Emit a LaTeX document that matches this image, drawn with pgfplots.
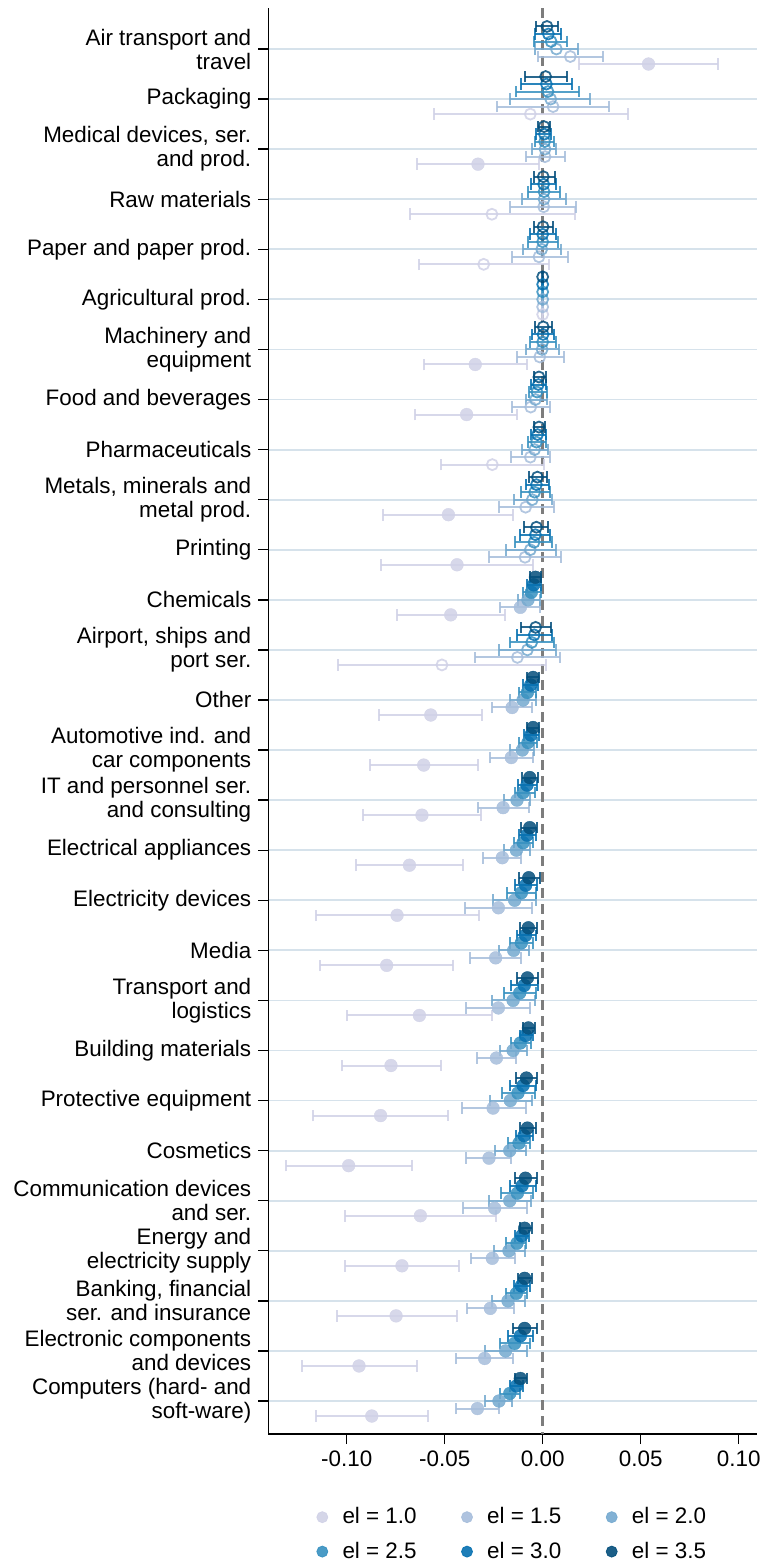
\documentclass[border=0pt]{standalone}
\usepackage{fontspec}
\setmainfont{Liberation Sans}
\usepackage{pgfplots}
\usepackage{pgfplotstable}
\pgfplotsset{compat=1.18}

\definecolor{c10}{RGB}{208,209,230}
\definecolor{c15}{RGB}{166,189,219}
\definecolor{c20}{RGB}{116,169,207}
\definecolor{c25}{RGB}{54,144,192}
\definecolor{c30}{RGB}{5,112,176}
\definecolor{c35}{RGB}{3,78,123}
\definecolor{gridc}{RGB}{214,226,235}
\definecolor{zeroc}{RGB}{125,125,125}

% k = category (0 = top), m = estimate, lo/hi = CI, s = 1 (significant, filled) / 0 (hollow)
\pgfplotstableread{
k m lo hi s
0 0.0540 0.0185 0.0896 1
1 -0.0063 -0.0554 0.0434 0
2 -0.0330 -0.0639 -0.0017 1
3 -0.0259 -0.0679 0.0163 0
4 -0.0301 -0.0631 0.0031 0
5 0.0000 -0.0003 0.0003 0
6 -0.0344 -0.0604 -0.0082 1
7 -0.0388 -0.0650 -0.0129 1
8 -0.0257 -0.0519 0.0007 0
9 -0.0481 -0.0813 -0.0150 1
10 -0.0437 -0.0825 -0.0051 1
11 -0.0469 -0.0745 -0.0192 1
12 -0.0514 -0.1043 0.0017 0
13 -0.0571 -0.0833 -0.0311 1
14 -0.0607 -0.0881 -0.0328 1
15 -0.0616 -0.0918 -0.0316 1
16 -0.0680 -0.0954 -0.0405 1
17 -0.0743 -0.1158 -0.0327 1
18 -0.0796 -0.1136 -0.0456 1
19 -0.0629 -0.0997 -0.0260 1
20 -0.0774 -0.1026 -0.0520 1
21 -0.0827 -0.1173 -0.0481 1
22 -0.0990 -0.1310 -0.0667 1
23 -0.0624 -0.1007 -0.0238 1
24 -0.0718 -0.1007 -0.0425 1
25 -0.0748 -0.1051 -0.0439 1
26 -0.0937 -0.1230 -0.0643 1
27 -0.0872 -0.1158 -0.0587 1
}\tabA

\pgfplotstableread{
k m lo hi s
0 0.0141 -0.0024 0.0308 0
1 0.0053 -0.0231 0.0338 0
2 0.0012 -0.0087 0.0112 0
3 0.0005 -0.0165 0.0172 0
4 -0.0019 -0.0155 0.0129 0
5 0.0000 -0.0003 0.0003 0
6 -0.0015 -0.0131 0.0107 0
7 -0.0061 -0.0155 0.0036 0
8 -0.0063 -0.0160 0.0039 0
9 -0.0087 -0.0223 0.0056 0
10 -0.0090 -0.0274 0.0095 0
11 -0.0114 -0.0216 -0.0012 1
12 -0.0129 -0.0347 0.0087 0
13 -0.0156 -0.0257 -0.0056 1
14 -0.0160 -0.0270 -0.0049 1
15 -0.0202 -0.0330 -0.0070 1
16 -0.0206 -0.0304 -0.0109 1
17 -0.0226 -0.0398 -0.0053 1
18 -0.0240 -0.0372 -0.0109 1
19 -0.0226 -0.0389 -0.0063 1
20 -0.0236 -0.0333 -0.0134 1
21 -0.0253 -0.0412 -0.0087 1
22 -0.0274 -0.0389 -0.0160 1
23 -0.0245 -0.0406 -0.0080 1
24 -0.0257 -0.0367 -0.0143 1
25 -0.0267 -0.0384 -0.0148 1
26 -0.0296 -0.0440 -0.0151 1
27 -0.0333 -0.0444 -0.0223 1
}\tabB

\pgfplotstableread{
k m lo hi s
0 0.0070 -0.0041 0.0180 0
1 0.0041 -0.0168 0.0240 0
2 0.0012 -0.0053 0.0070 0
3 0.0007 -0.0104 0.0117 0
4 -0.0005 -0.0100 0.0095 0
5 0.0000 -0.0003 0.0003 0
6 -0.0003 -0.0087 0.0083 0
7 -0.0037 -0.0087 0.0022 0
8 -0.0041 -0.0104 0.0027 0
9 -0.0053 -0.0148 0.0049 0
10 -0.0063 -0.0185 0.0066 0
11 -0.0075 -0.0126 -0.0012 1
12 -0.0078 -0.0223 0.0070 0
13 -0.0100 -0.0165 -0.0036 1
14 -0.0104 -0.0165 -0.0043 1
15 -0.0131 -0.0195 -0.0067 1
16 -0.0134 -0.0199 -0.0063 1
17 -0.0143 -0.0253 -0.0032 1
18 -0.0148 -0.0225 -0.0071 1
19 -0.0151 -0.0257 -0.0041 1
20 -0.0151 -0.0216 -0.0080 1
21 -0.0165 -0.0270 -0.0053 1
22 -0.0168 -0.0245 -0.0087 1
23 -0.0168 -0.0274 -0.0058 1
24 -0.0172 -0.0250 -0.0092 1
25 -0.0177 -0.0257 -0.0092 1
26 -0.0189 -0.0296 -0.0080 1
27 -0.0223 -0.0296 -0.0155 1
}\tabC

\pgfplotstableread{
k m lo hi s
0 0.0043 -0.0044 0.0126 0
1 0.0027 -0.0134 0.0185 0
2 0.0010 -0.0040 0.0056 0
3 0.0007 -0.0075 0.0087 0
4 0.0000 -0.0075 0.0078 0
5 0.0000 -0.0003 0.0003 0
6 0.0000 -0.0066 0.0070 0
7 -0.0029 -0.0070 0.0022 0
8 -0.0032 -0.0075 0.0019 0
9 -0.0041 -0.0109 0.0039 0
10 -0.0044 -0.0143 0.0046 0
11 -0.0058 -0.0100 -0.0010 1
12 -0.0056 -0.0168 0.0058 0
13 -0.0078 -0.0121 -0.0032 1
14 -0.0075 -0.0121 -0.0027 1
15 -0.0100 -0.0143 -0.0041 1
16 -0.0100 -0.0148 -0.0049 1
17 -0.0109 -0.0180 -0.0035 1
18 -0.0109 -0.0165 -0.0049 1
19 -0.0117 -0.0199 -0.0032 1
20 -0.0114 -0.0160 -0.0058 1
21 -0.0126 -0.0206 -0.0041 1
22 -0.0121 -0.0177 -0.0066 1
23 -0.0129 -0.0211 -0.0049 1
24 -0.0131 -0.0185 -0.0083 1
25 -0.0134 -0.0189 -0.0080 1
26 -0.0143 -0.0219 -0.0063 1
27 -0.0168 -0.0219 -0.0117 1
}\tabD

\pgfplotstableread{
k m lo hi s
0 0.0029 -0.0041 0.0095 0
1 0.0019 -0.0109 0.0151 0
2 0.0009 -0.0032 0.0044 0
3 0.0005 -0.0058 0.0070 0
4 0.0000 -0.0063 0.0070 0
5 0.0000 -0.0003 0.0003 0
6 0.0002 -0.0053 0.0056 0
7 -0.0022 -0.0058 0.0019 0
8 -0.0026 -0.0058 0.0015 0
9 -0.0032 -0.0087 0.0032 0
10 -0.0037 -0.0117 0.0036 0
11 -0.0046 -0.0080 -0.0010 1
12 -0.0043 -0.0131 0.0049 0
13 -0.0061 -0.0100 -0.0024 1
14 -0.0060 -0.0097 -0.0020 1
15 -0.0080 -0.0126 -0.0029 1
16 -0.0080 -0.0121 -0.0032 1
17 -0.0087 -0.0140 -0.0030 1
18 -0.0087 -0.0131 -0.0036 1
19 -0.0094 -0.0160 -0.0024 1
20 -0.0087 -0.0117 -0.0049 1
21 -0.0100 -0.0168 -0.0032 1
22 -0.0095 -0.0134 -0.0049 1
23 -0.0105 -0.0168 -0.0036 1
24 -0.0107 -0.0143 -0.0070 1
25 -0.0109 -0.0148 -0.0066 1
26 -0.0114 -0.0177 -0.0049 1
27 -0.0134 -0.0168 -0.0100 1
}\tabE

\pgfplotstableread{
k m lo hi s
0 0.0022 -0.0036 0.0078 0
1 0.0015 -0.0092 0.0126 0
2 0.0007 -0.0024 0.0036 0
3 0.0003 -0.0046 0.0061 0
4 0.0002 -0.0046 0.0053 0
5 0.0000 -0.0003 0.0003 0
6 0.0003 -0.0041 0.0048 0
7 -0.0019 -0.0046 0.0015 0
8 -0.0019 -0.0046 0.0010 0
9 -0.0027 -0.0070 0.0022 0
10 -0.0032 -0.0097 0.0027 0
11 -0.0037 -0.0066 -0.0007 1
12 -0.0036 -0.0112 0.0041 0
13 -0.0049 -0.0080 -0.0019 1
14 -0.0049 -0.0080 -0.0019 1
15 -0.0066 -0.0104 -0.0024 1
16 -0.0066 -0.0109 -0.0027 1
17 -0.0071 -0.0121 -0.0012 1
18 -0.0073 -0.0114 -0.0029 1
19 -0.0078 -0.0131 -0.0024 1
20 -0.0073 -0.0100 -0.0041 1
21 -0.0083 -0.0138 -0.0027 1
22 -0.0078 -0.0117 -0.0036 1
23 -0.0088 -0.0143 -0.0029 1
24 -0.0092 -0.0117 -0.0053 1
25 -0.0092 -0.0126 -0.0053 1
26 -0.0092 -0.0151 -0.0029 1
27 -0.0114 -0.0143 -0.0080 1
}\tabF

\pgfplotsset{
  hol/.style={mark=o, mark size=2.75pt,
    mark options={line width=0.9pt, opacity=0.85},
    restrict expr to domain={\thisrow{s}}{-0.5:0.5}},
  fil/.style={mark=*, mark size=3.2pt,
    mark options={line width=0.2pt, opacity=0.85},
    restrict expr to domain={\thisrow{s}}{0.5:1.5}},
  ser/.style={
    forget plot, only marks, color=#1,
    error bars/.cd, x dir=both, x explicit, error mark=|,
      error bar style={color=#1, line width=1pt, opacity=0.85},
      error mark options={color=#1, mark size=2.9pt, line width=1pt, opacity=0.85},
  },
  table/eltab/.style={x=m, y expr=\thisrow{k}+#1,
    x error plus expr=\thisrow{hi}-\thisrow{m},
    x error minus expr=\thisrow{m}-\thisrow{lo}},
  legimg/.style={legend image code/.code={
      \path[draw=none, fill=none] (-2.6pt,-2pt) rectangle (8.1pt,2pt);
      \fill[#1, opacity=0.9] (0pt,0pt) circle (2.75pt);}},
}

\begin{document}
\begin{tikzpicture}
\begin{axis}[
  scale only axis,
  width=244.2pt, height=712.85pt,
  xmin=-0.14, xmax=0.1092,
  ymin=-0.813, ymax=27.659,
  y dir=reverse,
  axis x line*=bottom, axis y line*=left,
  axis line style={black, line width=0.7pt},
  tick align=outside, major tick length=5pt,
  tick style={black, line width=0.7pt},
  xtick={-0.1,-0.05,0,0.05,0.1},
  xticklabels={-0.10,-0.05,0.00,0.05,0.10},
  ytick={0,...,27},
  yticklabels={{Air transport and\\travel},{Packaging},{Medical devices, ser.\\and prod.},{Raw materials},{Paper and paper prod.},{Agricultural prod.},{Machinery and\\equipment},{Food and beverages},{Pharmaceuticals},{Metals, minerals and\\metal prod.},{Printing},{Chemicals},{Airport, ships and\\port ser.},{Other},{Automotive ind. and\\car components},{IT and personnel ser.\\and consulting},{Electrical appliances},{Electricity devices},{Media},{Transport and\\logistics},{Building materials},{Protective equipment},{Cosmetics},{Communication devices\\and ser.},{Energy and\\electricity supply},{Banking, financial\\ser. and insurance},{Electronic components\\and devices},{Computers (hard- and\\soft-ware)}},
  yticklabel style={align=right, font=\fontsize{11.2}{12}\selectfont},
  xticklabel style={font=\fontsize{11.2}{12}\selectfont},
  ymajorgrids=true,
  major grid style={color=gridc, line width=0.9pt},
  clip=false,
  legend columns=3,
  legend cell align=left,
  legend style={at={(0.0977,-0.0485)}, anchor=north west, draw=none, fill=none,
    inner sep=0pt, font=\fontsize{11.2}{12}\selectfont, row sep=3.6pt,
    /tikz/every even column/.append style={column sep=20.25pt}},
]
\addplot[forget plot, color=zeroc, line width=1.2pt, dash pattern=on 5pt off 3pt] coordinates {(0,-0.813) (0,27.659)};

\addplot[hol, ser=c10] table[eltab=0.3] {\tabA};
\addplot[fil, ser=c10] table[eltab=0.3] {\tabA};
\addplot[hol, ser=c15] table[eltab=0.15] {\tabB};
\addplot[fil, ser=c15] table[eltab=0.15] {\tabB};
\addplot[hol, ser=c20] table[eltab=0] {\tabC};
\addplot[fil, ser=c20] table[eltab=0] {\tabC};
\addplot[hol, ser=c25] table[eltab=-0.15] {\tabD};
\addplot[fil, ser=c25] table[eltab=-0.15] {\tabD};
\addplot[hol, ser=c30] table[eltab=-0.3] {\tabE};
\addplot[fil, ser=c30] table[eltab=-0.3] {\tabE};
\addplot[hol, ser=c35] table[eltab=-0.45] {\tabF};
\addplot[fil, ser=c35] table[eltab=-0.45] {\tabF};

\addlegendimage{legimg=c10}
\addlegendentry{el = 1.0}
\addlegendimage{legimg=c15}
\addlegendentry{el = 1.5}
\addlegendimage{legimg=c20}
\addlegendentry{el = 2.0}
\addlegendimage{legimg=c25}
\addlegendentry{el = 2.5}
\addlegendimage{legimg=c30}
\addlegendentry{el = 3.0}
\addlegendimage{legimg=c35}
\addlegendentry{el = 3.5}
\end{axis}
\pgfresetboundingbox
\path[use as bounding box] (-134.15pt,-65pt) rectangle (247.85pt,717pt);
\end{tikzpicture}
\end{document}
